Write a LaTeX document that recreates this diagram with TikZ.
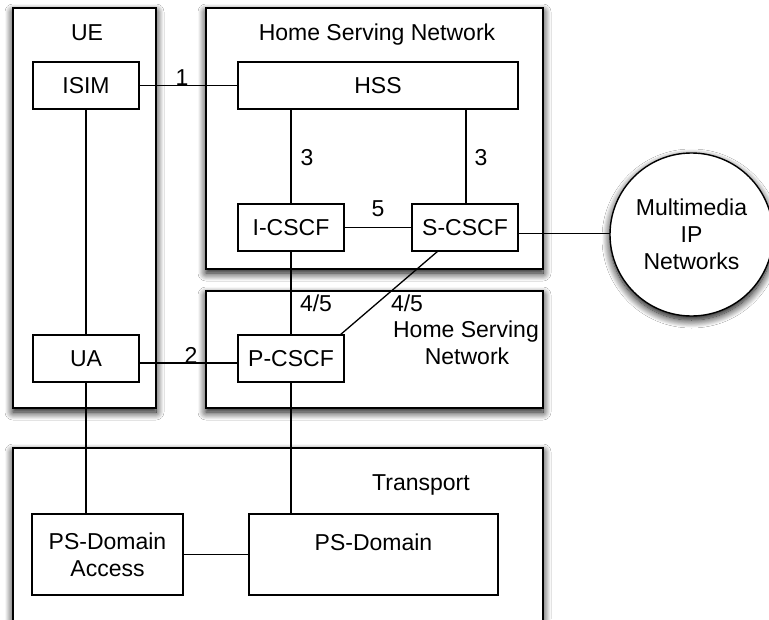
\documentclass[tikz,border=0pt]{standalone}
\usepackage{fontspec}
\setmainfont{Liberation Sans}
\usetikzlibrary{shadows.blur}
\begin{document}
\begin{tikzpicture}[x=1pt,y=-1pt,
  every node/.style={font=\fontsize{23}{27}\selectfont, inner sep=0pt, outer sep=0pt},
  container/.style={draw=black, line width=1.4pt, fill=white, rectangle,
    blur shadow={shadow xshift=0pt, shadow yshift=-4pt, shadow blur radius=8pt, shadow blur steps=12, shadow opacity=100}},
  elem/.style={draw=black, line width=1.3pt, fill=white, rectangle, text height=16pt, text depth=0pt, align=center},
  conn/.style={draw=black, line width=1.3pt},
  lbl/.style={anchor=base}
]
\useasboundingbox (0,0) rectangle (769,619);
\fill[white] (0,0) rectangle (769,619);

% containers
\node[container, minimum width=143pt, minimum height=400pt] (ue) at (84.5,208) {};
\node[container, minimum width=337pt, minimum height=261pt] (hsn) at (374.5,138.5) {};
\node[container, minimum width=337pt, minimum height=117pt] (vsn) at (374.5,349.5) {};
\node[container, minimum width=530pt, minimum height=200pt] (tr) at (278,548) {};
\node[container, circle, minimum size=163pt, align=center] (mm) at (691.5,234.5) {Multimedia\\IP\\Networks};

% container titles
\node[lbl] (uet) at (87,40) {UE};
\node[lbl] (hsnt) at (377,40) {Home Serving Network};
\node[lbl] (vsnt1) at (466,337) {Home Serving};
\node[lbl] (vsnt2) at (467,364) {Network};
\node[lbl] (trt) at (421,490) {Transport};

% elements
\node[elem, minimum width=106pt, minimum height=47pt] (isim) at (86,85.5) {ISIM};
\node[elem, minimum width=280pt, minimum height=47pt] (hss) at (378,85.5) {HSS};
\node[elem, minimum width=106pt, minimum height=47pt] (icscf) at (291,227.5) {I-CSCF};
\node[elem, minimum width=106pt, minimum height=47pt] (scscf) at (465,227.5) {S-CSCF};
\node[elem, minimum width=106pt, minimum height=47pt] (ua) at (86,358.5) {UA};
\node[elem, minimum width=106pt, minimum height=47pt] (pcscf) at (291,358.5) {P-CSCF};
\node[draw=black, line width=1.3pt, fill=white, align=center, minimum width=151pt, minimum height=81pt] (psda) at (107.5,554.5) {PS-Domain\\Access};
\node[draw=black, line width=1.3pt, fill=white, minimum width=249pt, minimum height=81pt] (psd) at (373.5,554.5) {};
\node[lbl] (psdt) at (373.5,550) {PS-Domain};

% connectors
\draw[conn] (isim.east) -- (hss.west);
\draw[conn] (icscf.north) -- (icscf.north |- hss.south);
\draw[conn] ([xshift=1pt]scscf.north) -- ([xshift=1pt]scscf.north |- hss.south);
\draw[conn] (icscf.east) -- (scscf.west);
\draw[conn] ([yshift=-6pt]scscf.east) -- ([yshift=-6pt]scscf.east -| mm.west);
\draw[conn] (icscf.south) -- (pcscf.north);
\draw[conn] ([xshift=-27pt]scscf.south) -- ([xshift=-4pt]pcscf.north east);
\draw[conn] (isim.south) -- (ua.north);
\draw[conn] ([yshift=-4.5pt]ua.east) -- ([yshift=-4.5pt]pcscf.west);
\draw[conn] (ua.south) -- (ua.south |- psda.north);
\draw[conn] (pcscf.south) -- (pcscf.south |- psd.north);
\draw[conn] (psda.east) -- (psd.west);

% connector labels
\node[lbl] (l1) at (182,85) {1};
\node[lbl] (l2) at (191,363) {2};
\node[lbl] (l3a) at (307,165) {3};
\node[lbl] (l3b) at (481,165) {3};
\node[lbl] (l5) at (378,216) {5};
\node[lbl] (l45a) at (316,311) {4/5};
\node[lbl] (l45b) at (407,311) {4/5};
\end{tikzpicture}
\end{document}
